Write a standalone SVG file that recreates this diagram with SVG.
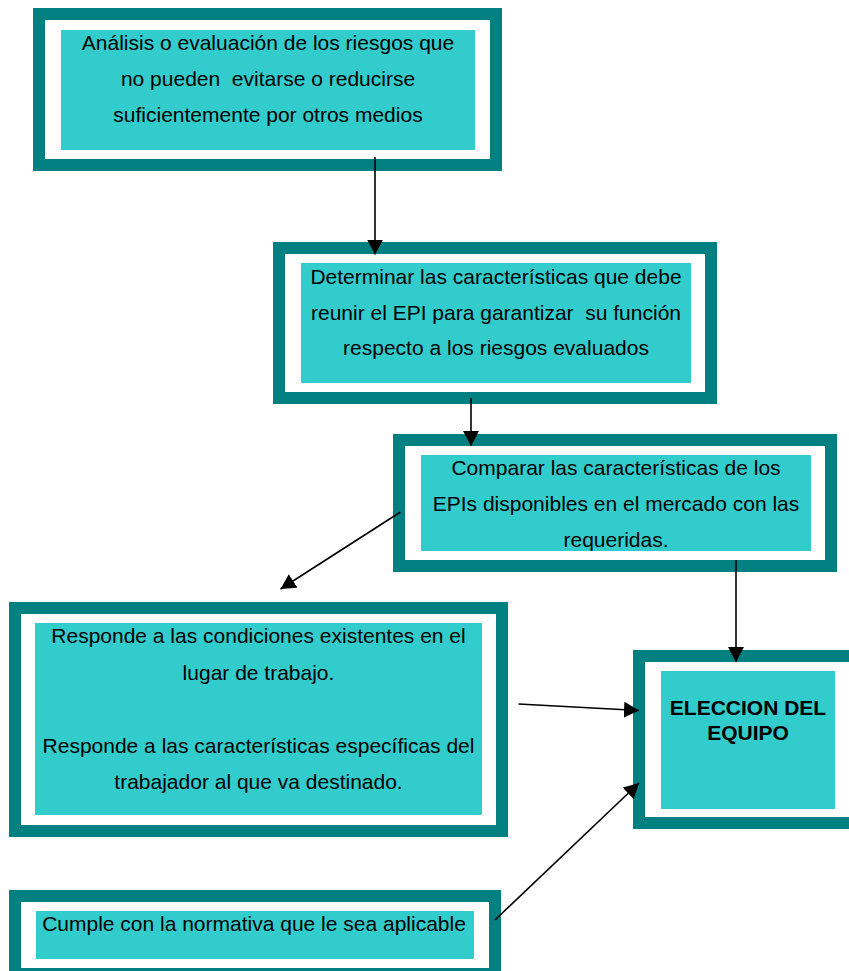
<svg xmlns="http://www.w3.org/2000/svg" width="849" height="971" viewBox="0 0 849 971">
<style>
.frame{fill:#ffffff;stroke:#008080;stroke-width:12}
.core{fill:#33CCCC}
.t{font-family:"Liberation Sans",Arial,sans-serif;font-size:21px;fill:#000;text-anchor:middle}
.b{font-weight:bold}
.c{stroke:#000;stroke-width:1.6;fill:none;marker-end:url(#ah)}
</style>
<defs>
<marker id="ah" markerUnits="userSpaceOnUse" markerWidth="16" markerHeight="16" refX="15" refY="8" orient="auto" viewBox="0 0 16 16">
<path d="M0,0 L15,8 L0,16 z" fill="#000"/>
</marker>
</defs>
<rect width="849" height="971" fill="#ffffff"/>
<g id="n1">
<rect class="frame" x="39" y="14" width="457" height="151"/>
<rect class="core" x="61" y="30" width="414" height="120"/>
<text class="t" x="268" y="50">Análisis o evaluación de los riesgos que</text>
<text class="t" x="268" y="86" xml:space="preserve">no pueden  evitarse o reducirse</text>
<text class="t" x="268" y="121.5">suficientemente por otros medios</text>
</g>
<g id="n2">
<rect class="frame" x="279" y="248" width="432" height="150"/>
<rect class="core" x="301" y="263" width="390" height="120"/>
<text class="t" x="496" y="284">Determinar las características que debe</text>
<text class="t" x="496" y="319.5" xml:space="preserve">reunir el EPI para garantizar  su función</text>
<text class="t" x="496" y="355">respecto a los riesgos evaluados</text>
</g>
<g id="n3">
<rect class="frame" x="399" y="440" width="432" height="126"/>
<rect class="core" x="421" y="455" width="390" height="96"/>
<text class="t" x="616" y="474.5">Comparar las características de los</text>
<text class="t" x="616" y="510.5">EPIs disponibles en el mercado con las</text>
<text class="t" x="616" y="547">requeridas.</text>
</g>
<g id="n4">
<rect class="frame" x="15" y="608" width="487" height="223"/>
<rect class="core" x="35" y="623" width="447" height="192"/>
<text class="t" x="258.5" y="643">Responde a las condiciones existentes en el</text>
<text class="t" x="258.5" y="679.5">lugar de trabajo.</text>
<text class="t" x="258.5" y="752.5">Responde a las características específicas del</text>
<text class="t" x="258.5" y="789">trabajador al que va destinado.</text>
</g>
<g id="n5">
<rect class="frame" x="639" y="656" width="222" height="167"/>
<rect class="core" x="661" y="671" width="174" height="138"/>
<text class="t b" x="748" y="715">ELECCION DEL</text>
<text class="t b" x="748" y="739.5">EQUIPO</text>
</g>
<g id="n6">
<rect class="frame" x="15" y="896" width="480" height="78"/>
<rect class="core" x="36" y="911" width="438" height="48"/>
<text class="t" x="254" y="930.5">Cumple con la normativa que le sea aplicable</text>
</g>
<g id="connectors">
<line class="c" x1="375" y1="157" x2="375" y2="254.5"/>
<line class="c" x1="471" y1="398" x2="471" y2="446"/>
<line class="c" x1="400.5" y1="512" x2="280.5" y2="589"/>
<line class="c" x1="736" y1="560" x2="736" y2="662"/>
<line class="c" x1="518.5" y1="704" x2="639" y2="710.5"/>
<line class="c" x1="495" y1="920" x2="639" y2="783"/>
</g>
</svg>
